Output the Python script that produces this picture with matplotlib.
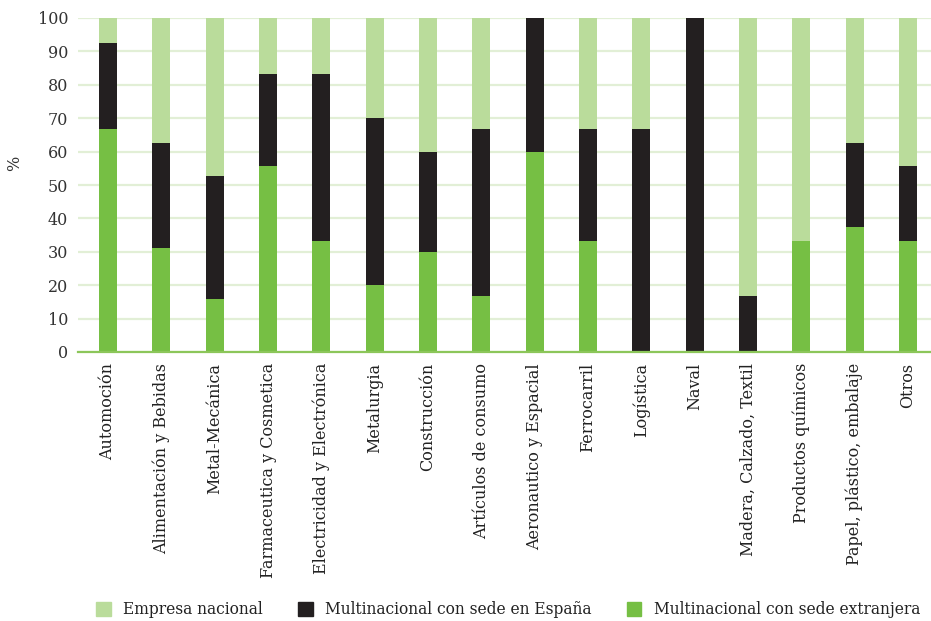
import matplotlib
matplotlib.use("Agg")
import matplotlib.pyplot as plt
import numpy as np

categories = [
    "Automoción", "Alimentación y Bebidas", "Metal-Mecánica", "Farmaceutica y Cosmetica",
    "Electricidad y Electrónica", "Metalurgia", "Construcción", "Artículos de consumo",
    "Aeronautico y Espacial", "Ferrocarril", "Logística", "Naval",
    "Madera, Calzado, Textil", "Productos químicos", "Papel, plástico, embalaje", "Otros",
]
sede_extranjera = [66.7, 31.25, 15.8, 55.6, 33.3, 20.0, 30.0, 16.7, 60.0, 33.3, 0.0, 0.0, 0.0, 33.3, 37.5, 33.3]
sede_espana = [25.9, 31.25, 36.8, 27.7, 50.0, 50.0, 30.0, 50.0, 40.0, 33.4, 66.7, 100.0, 16.7, 0.0, 25.0, 22.3]
nacional = [100 - a - b for a, b in zip(sede_extranjera, sede_espana)]

series_labels = ["Empresa nacional", "Multinacional con sede en España", "Multinacional con sede extranjera"]
yticks = list(range(0, 101, 10))

c_nac = "#badc9b"
c_esp = "#231f20"
c_ext = "#76bf44"

plt.rcParams["font.family"] = ["DejaVu Serif"]

fig = plt.figure(figsize=(9.31, 6.21), dpi=100)
ax = fig.add_axes([78 / 931, 1 - 352 / 621, 853 / 931, (352 - 18) / 621])

x = np.arange(len(categories))
w = 0.34
ext = np.array(sede_extranjera)
esp = np.array(sede_espana)
nac = np.array(nacional)
ax.bar(x, ext, w, color=c_ext, zorder=3)
ax.bar(x, esp, w, bottom=ext, color=c_esp, zorder=3)
ax.bar(x, nac, w, bottom=ext + esp, color=c_nac, zorder=3)

ax.set_xlim(-0.5625, 15.43)
ax.set_ylim(0, 100)
ax.set_yticks(yticks)
ax.set_yticklabels([str(t) for t in yticks], fontsize=11.5, color="#333333")
ax.yaxis.grid(True, color="#e2efd6", linewidth=1.6, zorder=0)
ax.set_axisbelow(True)
ax.tick_params(axis="y", length=0, pad=7)
ax.tick_params(axis="x", length=0, pad=8)
ax.set_xticks(x)
ax.set_xticklabels(categories, rotation=90, fontsize=11.5, color="#222222")
for s in ["top", "right", "left"]:
    ax.spines[s].set_visible(False)
ax.spines["bottom"].set_color("#8cc65a")
ax.spines["bottom"].set_linewidth(1.6)
ax.spines["bottom"].set_zorder(4)

fig.text(15 / 931, 1 - 163 / 621, "%", rotation=90, ha="center", va="center",
         fontsize=11.5, color="#333333")

handles = [plt.Rectangle((0, 0), 1, 1, color=c) for c in (c_nac, c_esp, c_ext)]
fig.legend(handles, series_labels, loc="center", bbox_to_anchor=(508 / 931, 1 - 610 / 621),
           ncol=3, frameon=False, fontsize=11.2, handlelength=0.95, handleheight=0.95,
           columnspacing=2.25, handletextpad=0.8, labelcolor="#222222",
           borderpad=0.1, borderaxespad=0)

fig.savefig("out.png", dpi=100, facecolor="white")
